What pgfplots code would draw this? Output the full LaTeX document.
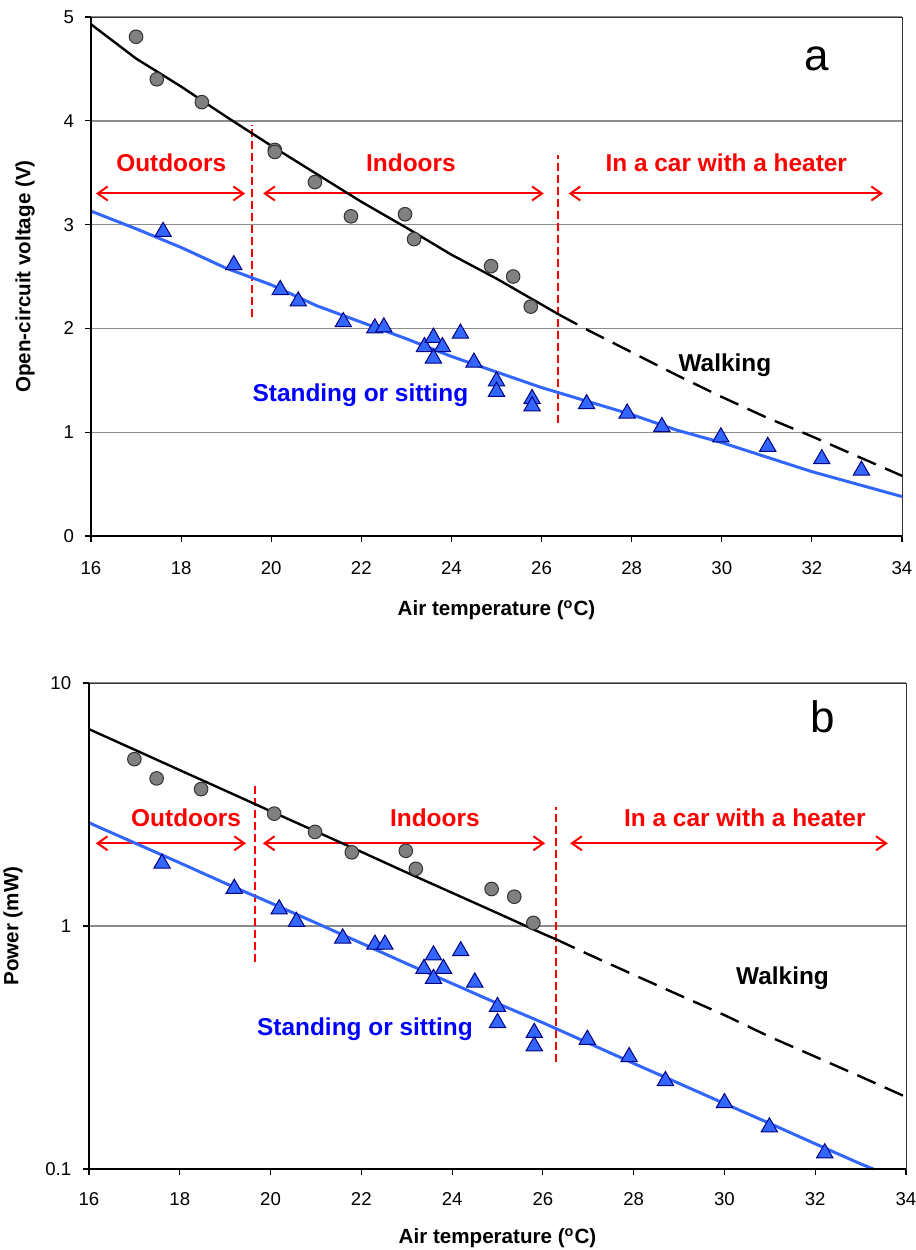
\documentclass[border=0pt]{standalone}
\usepackage{pgfplots}
\pgfplotsset{compat=1.18}
\usepackage{fontspec}
\setmainfont{Liberation Sans}
\usetikzlibrary{arrows.meta}

\definecolor{triblue}{RGB}{51,102,255}
\definecolor{trinavy}{RGB}{0,0,128}
\definecolor{dotgray}{RGB}{128,128,128}
\definecolor{gridgray}{RGB}{140,140,140}
\definecolor{regred}{RGB}{255,0,0}

% measured points, panel a (open-circuit voltage)
\pgfplotstableread{
x y
17.00 4.81
17.46 4.40
18.46 4.18
20.08 3.72
20.08 3.70
20.97 3.41
21.77 3.08
22.97 3.10
23.17 2.86
24.88 2.60
25.37 2.50
25.76 2.21
}\walkA
\pgfplotstableread{
x y
17.60 2.92
19.17 2.60
20.20 2.36
20.60 2.25
21.60 2.05
22.30 1.99
22.50 2.00
23.40 1.81
23.60 1.90
23.60 1.70
23.80 1.81
24.20 1.94
24.50 1.66
25.00 1.48
25.00 1.38
25.79 1.31
25.79 1.24
27.00 1.26
27.90 1.17
28.67 1.04
29.98 0.94
31.02 0.85
32.22 0.73
33.10 0.62
}\standA
% measured points, panel b (power)
\pgfplotstableread{
x y
17.00 4.86
17.49 4.05
18.47 3.66
20.08 2.90
20.98 2.44
21.79 2.01
22.98 2.04
23.20 1.72
24.87 1.42
25.37 1.32
25.79 1.03
}\walkB
\pgfplotstableread{
x y
17.61 1.79
19.20 1.41
20.19 1.16
20.57 1.03
21.59 0.88
22.30 0.83
22.52 0.83
23.38 0.66
23.59 0.75
23.59 0.60
23.81 0.66
24.19 0.78
24.50 0.58
25.00 0.46
25.00 0.395
25.81 0.36
25.81 0.317
26.98 0.337
27.90 0.286
28.70 0.228
30.00 0.185
30.99 0.147
32.21 0.115
}\standB

\pgfplotsset{
  panel/.style={
    scale only axis,
    xmin=16, xmax=34,
    xtick={16,18,...,34},
    tick align=outside,
    xtick pos=left, ytick pos=left,
    major tick length=3pt,
    tick style={black, line width=0.6pt},
    axis line style={black!80, line width=0.5pt},
    ymajorgrids,
    grid style={gridgray, line width=0.7pt},
    ticklabel style={font=\fontsize{9.3}{11}\selectfont},
    /pgf/number format/assume math mode=true,
    label style={font=\bfseries\fontsize{10.3}{12}\selectfont},
    clip=false,
  },
  gdot/.style={only marks, mark=*, mark size=3.4pt,
    mark options={fill=dotgray, draw=black!80, line width=0.5pt}},
  btri/.style={only marks, mark=triangle*, mark size=4.7pt,
    mark options={fill=triblue, draw=trinavy, line width=0.5pt, yshift=0.6pt}},
  regsep/.style={color=regred, solid, line width=1pt, dash pattern=on 4pt off 2pt, mark=none},
  regline/.style={color=regred, solid, line width=1pt, mark=none,
    {Straight Barb[length=5pt,width=7pt]}-{Straight Barb[length=5pt,width=7pt]}},
}
\tikzset{
  regionlbl/.style={font=\bfseries\fontsize{12.2}{14}\selectfont, text=regred, anchor=base, inner sep=0pt},
}

\begin{document}
\begin{tikzpicture}
\useasboundingbox (0,0) rectangle (458pt,-625pt);

% ---------- panel a ----------
\begin{axis}[panel,
  at={(45.5pt,-268pt)}, anchor=south west,
  width=405.5pt, height=259.5pt,
  ymin=0, ymax=5, ytick={0,1,...,5},
  xticklabel style={yshift=-6pt},
  yticklabel style={xshift=-2pt},
  xlabel={Air temperature (\textsuperscript{o}C)},
  ylabel={Open-circuit voltage (V)},
  xlabel style={at={([yshift=-37pt]axis description cs:0.5,0)}, anchor=center},
  ylabel style={at={([xshift=-33pt]axis description cs:0,0.5)}, anchor=center},
]
\addplot[regsep] coordinates {(19.57,2.11) (19.57,3.96)};
\addplot[regsep] coordinates {(26.36,1.09) (26.36,3.67)};
\addplot[regline] coordinates {(16.11,3.30) (19.42,3.30)};
\addplot[regline] coordinates {(19.82,3.30) (26.05,3.30)};
\addplot[regline] coordinates {(26.60,3.30) (33.58,3.30)};
\addplot[gdot] table {\walkA};
\addplot[btri] table {\standA};
\addplot[black, line width=1.2pt] coordinates {
  (16,4.93) (17,4.60) (18,4.33) (19,4.04) (20,3.76) (21,3.49) (22,3.22)
  (23,2.97) (24,2.71) (25,2.48) (26,2.23) (26.4,2.13)};
\addplot[black, line width=1.2pt, dash pattern=on 10pt off 5pt] coordinates {
  (26.4,2.13) (27,1.99) (28,1.77) (29,1.55) (30,1.34) (31,1.14) (32,0.96)
  (33,0.77) (34,0.58)};
\addplot[triblue, line width=1.5pt] coordinates {
  (16,3.13) (17,2.96) (18,2.78) (19,2.58) (20,2.42) (21,2.22) (22,2.06)
  (23,1.90) (24,1.73) (25,1.58) (26,1.43) (27,1.30) (28,1.17) (29,1.02)
  (30,0.90) (31,0.76) (32,0.62) (33,0.50) (34,0.38)};
\node[regionlbl] at (axis cs:17.78,3.51) {Outdoors};
\node[regionlbl] at (axis cs:23.10,3.51) {Indoors};
\node[regionlbl] at (axis cs:30.10,3.51) {In a car with a heater};
\node[regionlbl, text=black] at (axis cs:30.07,1.583) {Walking};
\node[regionlbl, text=blue] at (axis cs:21.98,1.294) {Standing or sitting};
\node[anchor=base, inner sep=0pt, font=\fontsize{22}{24}\selectfont] at (axis cs:32.1,4.48) {a};
\draw[black, line width=1pt] (rel axis cs:0,1) -- (rel axis cs:0,0) -- (rel axis cs:1,0);
\end{axis}

% ---------- panel b ----------
\begin{axis}[panel,
  at={(44.5pt,-584.5pt)}, anchor=south west,
  width=408.5pt, height=243pt,
  ymode=log, ymin=0.1, ymax=10,
  ytick={0.1,1,10}, yticklabels={0.1,1,10},
  yminorticks=false,
  xticklabel style={yshift=-5pt},
  yticklabel style={xshift=-2.4pt},
  xlabel={Air temperature (\textsuperscript{o}C)},
  ylabel={Power (mW)},
  xlabel style={at={([yshift=-34.5pt]axis description cs:0.5,0)}, anchor=center},
  ylabel style={at={([xshift=-38pt]axis description cs:0,0.5)}, anchor=center},
]
\addplot[regsep] coordinates {(19.66,0.71) (19.66,3.85)};
\addplot[regsep] coordinates {(26.28,0.275) (26.28,3.08)};
\addplot[regline] coordinates {(16.15,2.19) (19.46,2.19)};
\addplot[regline] coordinates {(19.83,2.19) (26.05,2.19)};
\addplot[regline] coordinates {(26.60,2.19) (33.60,2.19)};
\addplot[gdot] table {\walkB};
\addplot[btri] table {\standB};
\addplot[black, line width=1.2pt] coordinates {
  (16,6.46) (17,5.32) (18,4.38) (19,3.61) (20,2.97) (21,2.45) (22,2.02)
  (23,1.66) (24,1.37) (25,1.13) (26,0.93) (26.3,0.88)};
\addplot[black, line width=1.2pt, dash pattern=on 10pt off 5pt] coordinates {
  (26.3,0.88) (27,0.765) (28,0.63) (29,0.52) (30,0.43) (31,0.35) (32,0.29)
  (33,0.24) (34,0.198)};
\addplot[triblue, line width=1.5pt] coordinates {
  (16,2.66) (17,2.20) (18,1.82) (19,1.50) (20,1.245) (21,1.03) (22,0.85)
  (23,0.70) (24,0.58) (25,0.48) (26,0.40) (27,0.33) (28,0.272) (29,0.225)
  (30,0.186) (31,0.154) (32,0.127) (33,0.105) (33.28,0.1)};
\node[regionlbl] at (axis cs:18.14,2.57) {Outdoors};
\node[regionlbl] at (axis cs:23.62,2.57) {Indoors};
\node[regionlbl] at (axis cs:30.45,2.57) {In a car with a heater};
\node[regionlbl, text=black] at (axis cs:31.28,0.573) {Walking};
\node[regionlbl, text=blue] at (axis cs:22.08,0.354) {Standing or sitting};
\node[anchor=base, inner sep=0pt, font=\fontsize{22}{24}\selectfont] at (axis cs:32.17,6.25) {b};
\draw[black, line width=1pt] (rel axis cs:0,1) -- (rel axis cs:0,0) -- (rel axis cs:1,0);
\end{axis}
\end{tikzpicture}
\end{document}
